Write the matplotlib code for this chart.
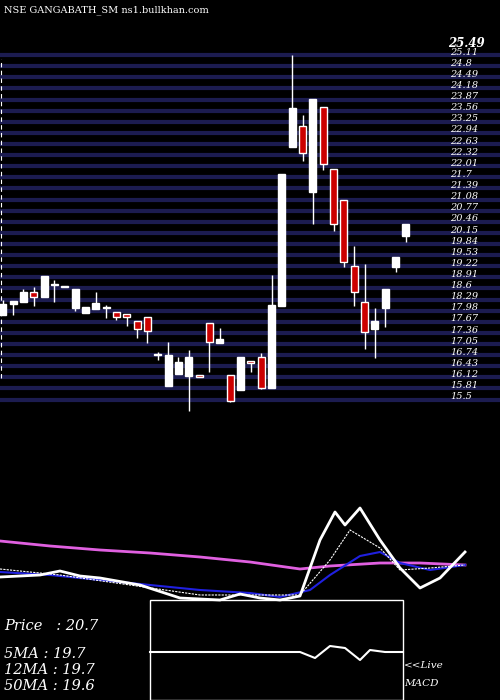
import matplotlib
matplotlib.use("Agg")
import matplotlib.pyplot as plt
from matplotlib.patches import Rectangle
import numpy as np

title = "NSE GANGABATH_SM ns1.bullkhan.com"
opens  = [18.15,18.46,18.51,18.79,18.66,18.98,18.92,18.35,18.21,18.32,18.35,18.22,18.17,17.97,18.08,17.03,16.18,16.51,16.46,16.47,
          17.92,17.38,16.47,16.07,16.88,16.97,16.12,18.41,22.84,23.41,21.59,23.94,22.21,21.37,19.51,18.52,17.77,18.35,19.49,20.36]
closes = [18.47,18.54,18.79,18.66,19.24,18.98,18.92,18.87,18.37,18.48,18.35,18.08,18.08,17.77,17.71,17.03,17.03,16.84,16.98,16.43,
          17.40,17.48,15.76,16.98,16.82,16.12,18.43,22.08,23.92,22.66,24.17,22.35,20.68,19.62,18.78,17.67,17.98,18.87,19.77,20.69]
highs  = [18.56,18.54,18.87,18.93,19.24,19.12,18.92,18.87,18.37,18.79,18.42,18.22,18.17,17.97,18.08,17.13,17.39,16.98,17.17,16.47,
          17.92,17.79,16.47,16.98,16.88,17.08,19.26,22.08,25.40,23.73,24.17,23.94,22.21,21.37,20.07,19.57,18.34,18.87,19.77,20.69]
lows   = [18.15,18.15,18.51,18.41,18.66,18.52,18.92,18.27,18.21,18.32,18.07,18.01,17.85,17.52,17.38,16.89,16.18,16.51,15.48,16.43,
          16.57,17.38,15.73,16.07,16.57,16.08,16.12,18.41,22.84,22.45,20.70,22.19,20.50,19.50,18.41,17.21,16.96,17.82,19.36,20.19]
tick_labels = ["15.5","15.81","16.12","16.43","16.74","17.05","17.36","17.67","17.98","18.29","18.6","18.91","19.22","19.53",
               "19.84","20.15","20.46","20.77","21.08","21.39","21.7","22.01","22.32","22.63","22.94","23.25","23.56","23.87",
               "24.18","24.49","24.8","25.11"]
top_label = "25.49"

# lower panel series (screen rows, 0 = top of figure)
px_x   = [0,50,100,150,200,250,300,330,380,420,465]
ma50_y = [541,546,550,553,557,562,569,566,563,563,565]
ma12_x = [0,50,100,150,200,250,280,310,330,360,380,400,430,465]
ma12_y = [572,575,580,585,590,593,597,590,575,556,552,563,570,565]
pr_x   = [0,40,60,80,100,140,180,220,240,260,280,300,320,335,345,360,380,400,420,440,465]
pr_y   = [577,575,571,576,578,585,598,600,594,598,600,596,540,512,525,508,540,568,588,578,552]
ma5_x  = [0,60,200,300,330,350,380,400,430,465]
ma5_y  = [569,575,595,595,560,530,548,570,568,565]
macd_x = [150,300,315,330,345,360,370,385,403]
macd_y = [652,652,658,646,648,660,650,652,652]
info = ["Price   : 20.7","5MA : 19.7","12MA : 19.7","50MA : 19.6"]
info_y = [626,654,670,686]

step = 10.34
fig = plt.figure(figsize=(5,7), dpi=100, facecolor="black")
ax = fig.add_axes([0, (700-415)/700, 1, 375/700])
ax.set_facecolor("black")
ax.set_xlim(-2.7/step, (500-2.7)/step)
ax.set_ylim(15.36, 25.82)
ax.axis("off")
for k, lab in enumerate(tick_labels):
    lvl = 15.79 + 0.31*k
    ax.axhline(lvl, color="#1c1c50", lw=3, zorder=1)
    ax.text(450/500, lvl+0.08, lab, transform=ax.get_yaxis_transform(), color="white",
            fontsize=7, family="DejaVu Serif", style="italic", va="center", zorder=3)
ax.text(448/500, 25.72, top_label, transform=ax.get_yaxis_transform(), color="white",
        fontsize=8.5, family="DejaVu Serif", style="italic", weight="bold", va="center")
w = 0.68
for i,(o,c,h,l) in enumerate(zip(opens,closes,highs,lows)):
    ax.vlines(i, l, h, color="white", lw=1, zorder=4)
    up = c >= o
    bot, top = min(o,c), max(o,c)
    hgt = max(top-bot, 0.03)
    ax.add_patch(Rectangle((i-w/2, bot), w, hgt, facecolor="white" if up else "#cc0000",
                           edgecolor="white", lw=1, zorder=5))
ax.axvline(-0.2, ymin=0.1, ymax=0.95, color="white", lw=0.8, ls=(0,(4,3)))

fig.text(4/500, 1-10/700, title, color="white", fontsize=7, family="DejaVu Serif", va="center")

bx = fig.add_axes([0,0,1,1], facecolor="none")
bx.set_xlim(0,500); bx.set_ylim(700,0); bx.axis("off")
bx.plot(px_x, ma50_y, color="#e060e0", lw=2)
bx.plot(ma12_x, ma12_y, color="#2020e0", lw=1.5)
bx.plot(ma5_x, ma5_y, color="white", lw=0.8, ls=(0,(2,1)))
bx.plot(pr_x, pr_y, color="white", lw=2)
bx.add_patch(Rectangle((150,600),253,100, facecolor="black", edgecolor="white", lw=1))
bx.plot(macd_x, macd_y, color="white", lw=1.5)
bx.text(404, 665, "<<Live", color="white", fontsize=7.5, style="italic", family="DejaVu Serif", va="center")
bx.text(404, 683, "MACD", color="white", fontsize=7.5, style="italic", family="DejaVu Serif", va="center")
for t, y in zip(info, info_y):
    bx.text(4, y, t, color="white", fontsize=10.5, style="italic", family="DejaVu Serif", va="center")

fig.savefig("out.png", dpi=100, facecolor="black")
